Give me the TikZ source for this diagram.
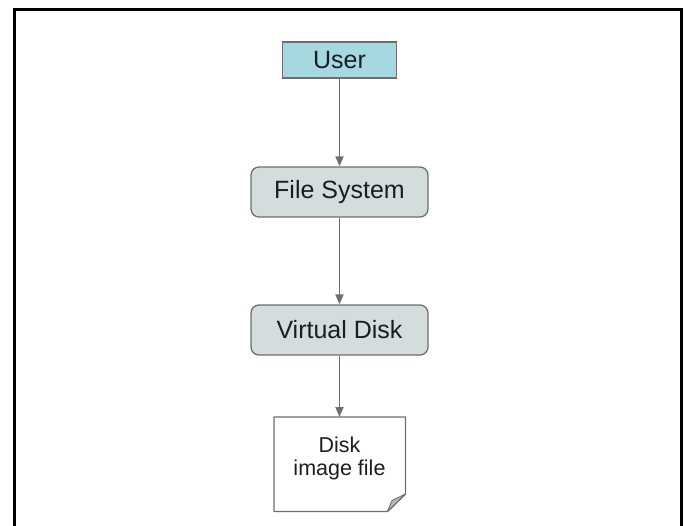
\documentclass[tikz,border=0pt]{standalone}
\usepackage{fontspec}
\setmainfont{Liberation Sans}
\usetikzlibrary{arrows.meta}
\definecolor{userfill}{HTML}{A6D8E2}
\definecolor{procfill}{HTML}{D4DCDC}
\definecolor{edgegray}{HTML}{6E6E6E}
\definecolor{foldgray}{HTML}{B8B8B8}
\definecolor{textcol}{HTML}{1C1C24}
\tikzset{
  boxline/.style={draw=edgegray, line width=1.3pt},
  userbox/.style={boxline, fill=userfill, text=textcol, minimum width=114pt, minimum height=36pt, inner sep=0pt, font=\fontsize{25}{28}\selectfont},
  procbox/.style={boxline, fill=procfill, text=textcol, rounded corners=8pt, minimum width=177pt, minimum height=50pt, inner sep=0pt, font=\fontsize{25}{28}\selectfont},
  flow/.style={draw=edgegray, line width=1.8pt, -{Triangle[length=10pt,width=8pt,fill=edgegray]}},
}
\begin{document}
\begin{tikzpicture}[x=1pt,y=-1pt]
\useasboundingbox (0,0) rectangle (685,525);
\begin{scope}
\clip (0,0) rectangle (685,525);
\draw[line width=3pt, black] (14,540) -- (14,9) -- (681,9) -- (681,540);
\end{scope}
\node[userbox] (user) at (339.5,60) {User};
\node[procbox] (fs) at (339.5,192) {File System};
\node[procbox] (vd) at (339.5,330) {Virtual Disk};
% note shape
\draw[boxline, fill=white, line join=round] (274,417) -- (405.5,417) -- (405.5,494) -- (387.5,511.5) -- (274,511.5) -- cycle;
\draw[boxline, fill=foldgray, line width=0.9pt, line join=round] (405.5,494) -- (392,500.5) -- (387.5,511.5) -- cycle;
\coordinate (notetop) at (339.5,417);
\node[align=center, text=textcol, font=\fontsize{21.5}{23}\selectfont, inner sep=0pt] (note) at (339.5,458) {Disk\\image file};
\draw[flow] (user.south) -- (fs.north);
\draw[flow] (fs.south) -- (vd.north);
\draw[flow] (vd.south) -- (notetop);
\end{tikzpicture}
\end{document}
